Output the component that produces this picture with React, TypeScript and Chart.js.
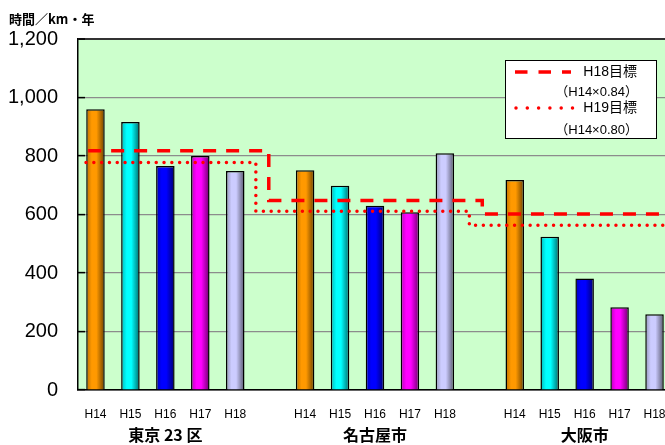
import React, { useEffect, useRef } from "react";
import { Chart, registerables } from "chart.js";

Chart.register(...registerables);

// ---- data ----
const years = ["H14", "H15", "H16", "H17", "H18"];
const cities = ["東京 23 区", "名古屋市", "大阪市"];
const tokyo = [960, 916, 766, 800, 749];
const nagoya = [751, 698, 630, 608, 809];
const osaka = [718, 524, 381, 283, 259];
const yearColors = ["#FF9900", "#00FFFF", "#0000FF", "#FF00FF", "#CCCCFF"];
const yTicks = [0, 200, 400, 600, 800, 1000, 1200];
const yTitle = "時間／km・年";

// targets per city (H18目標 = H14×0.84, H19目標 = H14×0.80) as drawn
const target18 = [818, 648, 602];
const target19 = [778, 611, 563];
// category positions (slot units) where each target step starts / changes / ends
const target18Steps = [-0.21, 4.96, 11.07, 16.5];
const target19Steps = [-0.27, 4.59, 10.7, 16.5];
const legendItems = [
  { name: "H18目標", note: "（H14×0.84）" },
  { name: "H19目標", note: "（H14×0.80）" },
];

// ---- derived tables ----
const groups = [tokyo, nagoya, osaka];
const xLabels: string[] = [];
const cityLabels: string[] = [];
const barValues: (number | null)[] = [];
const barColorIdx: number[] = [];
groups.forEach((vals, gi) => {
  if (gi > 0) {
    xLabels.push("");
    cityLabels.push("");
    barValues.push(null);
    barColorIdx.push(0);
  }
  vals.forEach((v, i) => {
    xLabels.push(years[i]);
    cityLabels.push(i === 2 ? cities[gi] : "");
    barValues.push(v);
    barColorIdx.push(i);
  });
});

function stepPoints(levels: number[], steps: number[]) {
  const pts: { x: number; y: number }[] = [];
  levels.forEach((lv, i) => {
    pts.push({ x: steps[i], y: lv });
    pts.push({ x: steps[i + 1], y: lv });
  });
  return pts;
}

function shade(hex: string, f: number) {
  const n = parseInt(hex.slice(1), 16);
  const r = Math.round(((n >> 16) & 255) * f);
  const g = Math.round(((n >> 8) & 255) * f);
  const b = Math.round((n & 255) * f);
  return `rgb(${r},${g},${b})`;
}

const BAR_FRACTION = 0.53;
const SANS = "'Liberation Sans', Arial, 'Noto Sans CJK JP', sans-serif";
const CJK = "'Noto Sans CJK JP', 'Liberation Sans', sans-serif";

const bgPlugin = {
  id: "plotBg",
  beforeDraw(chart: any) {
    const { ctx, chartArea } = chart;
    ctx.save();
    ctx.fillStyle = "#CCFFCC";
    ctx.fillRect(chartArea.left, chartArea.top, chartArea.right - chartArea.left, chartArea.bottom - chartArea.top);
    ctx.restore();
  },
};

const decoPlugin = {
  id: "deco",
  afterDraw(chart: any) {
    const { ctx } = chart;
    ctx.save();
    // y axis title
    ctx.fillStyle = "#000";
    ctx.font = `bold 13px ${CJK}`;
    ctx.textBaseline = "middle";
    ctx.textAlign = "left";
    ctx.fillText(yTitle, 9, 19);

    // legend box
    const bx = 505, by = 60, bw = 151, bh = 78;
    ctx.fillStyle = "#FFFFFF";
    ctx.fillRect(bx, by, bw, bh);
    ctx.strokeStyle = "#000";
    ctx.lineWidth = 1;
    ctx.strokeRect(bx + 0.5, by + 0.5, bw, bh);

    const rows = [72, 108];
    const notes = [92, 130];
    legendItems.forEach((it, i) => {
      ctx.beginPath();
      ctx.strokeStyle = "#FF0000";
      ctx.lineWidth = 3.5;
      if (i === 0) {
        ctx.lineCap = "butt";
        ctx.setLineDash([12.5, 11]);
        ctx.moveTo(515, rows[i]);
        ctx.lineTo(571, rows[i]);
      } else {
        ctx.lineCap = "round";
        ctx.setLineDash([0, 11.3]);
        ctx.moveTo(516, rows[i]);
        ctx.lineTo(574, rows[i]);
      }
      ctx.stroke();
      ctx.setLineDash([]);
      ctx.fillStyle = "#000";
      ctx.textAlign = "right";
      ctx.textBaseline = "middle";
      ctx.font = `14px ${SANS}`;
      ctx.fillText(it.name, 637, rows[i]);
      ctx.font = `13px ${SANS}`;
      ctx.fillText(it.note, 638, notes[i]);
    });
    ctx.restore();
  },
};

export default function App() {
  const ref = useRef<HTMLCanvasElement | null>(null);

  useEffect(() => {
    if (!ref.current) return;
    const barBg = (c: any) => {
      const idx = c.dataIndex;
      const base = yearColors[barColorIdx[idx] ?? 0];
      const chart = c.chart;
      const xs = chart.scales && chart.scales.x;
      if (!xs || idx == null || !isFinite(xs.width) || xs.width <= 0) return base;
      const cx = xs.getPixelForValue(idx);
      const w = (xs.width / xLabels.length) * BAR_FRACTION;
      if (!isFinite(cx)) return base;
      const g = chart.ctx.createLinearGradient(cx - w / 2, 0, cx + w / 2, 0);
      g.addColorStop(0, shade(base, 0.72));
      g.addColorStop(0.3, base);
      g.addColorStop(0.55, base);
      g.addColorStop(1, shade(base, 0.42));
      return g;
    };

    const chart = new Chart(ref.current, {
      type: "bar",
      data: {
        labels: xLabels,
        datasets: [
          {
            type: "bar",
            data: barValues as any,
            xAxisID: "x",
            yAxisID: "y",
            backgroundColor: barBg,
            borderColor: "#000",
            borderWidth: 1.5,
            grouped: false,
            barPercentage: 1,
            categoryPercentage: BAR_FRACTION,
            order: 2,
          } as any,
          {
            type: "line",
            data: stepPoints(target18, target18Steps),
            xAxisID: "xl",
            yAxisID: "y",
            borderColor: "#FF0000",
            borderWidth: 3.5,
            borderDash: [13, 10],
            borderCapStyle: "butt",
            pointRadius: 0,
            tension: 0,
            fill: false,
            order: 1,
          } as any,
          {
            type: "line",
            data: stepPoints(target19, target19Steps),
            xAxisID: "xl",
            yAxisID: "y",
            borderColor: "#FF0000",
            borderWidth: 3.5,
            borderDash: [0, 7.8],
            borderCapStyle: "round",
            pointRadius: 0,
            tension: 0,
            fill: false,
            order: 0,
          } as any,
        ],
      },
      options: {
        animation: false,
        responsive: false,
        events: [],
        layout: { padding: { top: 37, right: 18, left: 0, bottom: 0 } },
        plugins: { legend: { display: false }, tooltip: { enabled: false }, title: { display: false } },
        scales: {
          x: {
            type: "category",
            position: "bottom",
            offset: true,
            grid: { display: false, drawTicks: false },
            border: { display: true, color: "#000", width: 1.5 },
            ticks: {
              autoSkip: false,
              maxRotation: 0,
              color: "#000",
              padding: 17,
              font: { family: SANS, size: 12 },
            },
            afterFit: (s: any) => { s.height = 30; },
          },
          x2: {
            type: "category",
            position: "bottom",
            labels: cityLabels,
            offset: true,
            grid: { display: false, drawTicks: false },
            border: { display: false },
            ticks: {
              autoSkip: false,
              maxRotation: 0,
              color: "#000",
              padding: 5,
              font: { family: CJK, size: 16, weight: "bold" },
            },
            afterFit: (s: any) => { s.height = 25; },
          },
          xl: {
            type: "linear",
            display: false,
            offset: false,
            min: -0.5,
            max: xLabels.length - 0.5,
          },
          y: {
            type: "linear",
            min: yTicks[0],
            max: yTicks[yTicks.length - 1],
            afterBuildTicks: (s: any) => { s.ticks = yTicks.map((v) => ({ value: v })); },
            grid: {
              color: (c: any) => (c.tick && (c.tick.value === 1200 || c.tick.value === 0) ? "#333" : "#8C8C8C"),
              lineWidth: (c: any) => (c.tick && c.tick.value === 1200 ? 2 : 1.2),
              tickLength: -7,
              tickColor: "#000",
              tickWidth: 1.5,
            },
            border: { display: true, color: "#000", width: 1.5 },
            ticks: {
              color: "#000",
              padding: 27,
              font: { family: SANS, size: 20 },
              callback: (v: any) => Number(v).toLocaleString("en-US"),
            },
            afterFit: (s: any) => { s.width = 78; },
          },
        },
      },
      plugins: [bgPlugin, decoPlugin],
    } as any);
    return () => chart.destroy();
  }, []);

  return (
    <div style={{ position: "fixed", left: 0, top: 0, width: 665, height: 445, overflow: "hidden", background: "#fff" }}>
      <canvas ref={ref} width={690} height={445} style={{ display: "block", width: 690, height: 445 }} />
    </div>
  );
}
